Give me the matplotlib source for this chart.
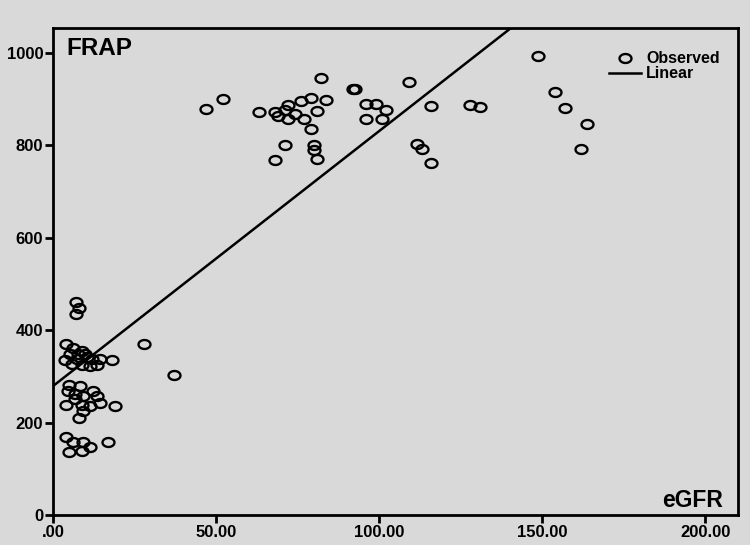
import numpy as np
import matplotlib
matplotlib.use("Agg")
import matplotlib.pyplot as plt
from matplotlib.lines import Line2D
from matplotlib.path import Path

# ---- data ----
egfr_high = [47.0, 52.1, 63.0, 68.0, 68.9, 72.0, 71.0, 74.1, 72.0, 76.0, 79.2, 77.1,
             81.0, 82.1, 83.8, 79.2, 71.1, 80.0, 80.0, 68.1, 81.0, 92.1, 96.1, 99.1,
             102.2, 96.1, 101.0, 109.0, 115.8, 111.7, 113.0, 115.8, 148.8, 127.7,
             131.0, 153.8, 156.9, 163.8, 161.8, 92.6]
frap_high = [878, 900, 873, 873, 864, 888, 877, 868, 857, 896, 902, 858,
             875, 946, 898, 836, 801, 800, 790, 768, 770, 923, 890, 890,
             876, 858, 858, 937, 886, 803, 793, 762, 994, 888,
             883, 915, 881, 847, 793, 921]

egfr_low = [7.1, 8.0, 7.1, 3.9, 28.0, 37.0,
            6.2, 8.8, 5.2, 9.8, 7.3, 3.7, 11.9, 14.4, 18.0, 5.7, 8.8, 11.4, 13.4, 10.4, 7.8,
            5.0, 8.3, 4.7, 6.8, 9.3, 12.4, 13.4, 14.4, 11.4, 8.8, 6.8, 4.0, 8.0, 19.0, 9.3,
            3.9, 6.2, 9.3, 11.4, 8.8, 5.0, 17.0]
frap_low = [461, 449, 436, 371, 371, 302,
            362, 355, 348, 348, 337, 335, 337, 338, 335, 326, 324, 323, 324, 342, 348,
            281, 279, 268, 261, 258, 268, 258, 243, 236, 239, 251, 238, 209, 236, 225,
            169, 159, 159, 148, 138, 136, 159]

fit_intercept = 279.0
fit_slope = 5.52

x_ticks = [0, 50, 100, 150, 200]
x_tick_labels = [".00", "50.00", "100.00", "150.00", "200.00"]
y_ticks = [0, 200, 400, 600, 800, 1000]

# ---- figure ----
bg = "#d9d9d9"
plt.rcParams['font.family'] = ['Liberation Sans', 'DejaVu Sans']
fig = plt.figure(figsize=(7.5, 5.45), dpi=100, facecolor=bg)
ax = fig.add_axes([53/750, 30/545, 685/750, 487/545], facecolor=bg)

egfr = np.array(egfr_high + egfr_low)
frap = np.array(frap_high + frap_low)

# slightly wide open-ellipse marker (reference is horizontally stretched)
t = np.linspace(0, 2 * np.pi, 60)
ell = Path(np.column_stack([np.cos(t), 0.75 * np.sin(t)]), closed=True)
mstyle = dict(linestyle='none', marker=ell, markersize=8.6,
              markerfacecolor='none', markeredgecolor='black', markeredgewidth=1.7)

ax.plot(egfr, frap, zorder=3, **mstyle)

xl = np.array([0, 210])
ax.plot(xl, fit_intercept + fit_slope * xl, color='black', lw=1.8, zorder=2)

ax.set_xlim(0, 210)
ax.set_ylim(0, 1054)
ax.set_xticks(x_ticks)
ax.set_xticklabels(x_tick_labels)
ax.set_yticks(y_ticks)

for s in ax.spines.values():
    s.set_linewidth(2.0)
    s.set_color('black')
ax.tick_params(direction='out', length=5.5, width=2.0, labelsize=12,
               colors='black', pad=1.5)
for lab in ax.get_xticklabels() + ax.get_yticklabels():
    lab.set_fontweight('bold')

ax.text(0.02, 0.958, "FRAP", transform=ax.transAxes, fontsize=17.5,
        fontweight='bold', va='center', ha='left')
ax.text(0.978, 0.03, "eGFR", transform=ax.transAxes, fontsize=16.5,
        fontweight='bold', va='center', ha='right')

handles = [Line2D([], [], **mstyle),
           Line2D([], [], color='black', lw=1.8)]
leg = ax.legend(handles, ["Observed", "Linear"], loc='upper right',
                bbox_to_anchor=(0.99, 0.975), frameon=False,
                prop={'weight': 'bold', 'size': 11.5}, handlelength=2.0,
                handletextpad=0.35, labelspacing=0.0, borderpad=0.2)

fig.savefig("out.png", dpi=100, facecolor=bg)
